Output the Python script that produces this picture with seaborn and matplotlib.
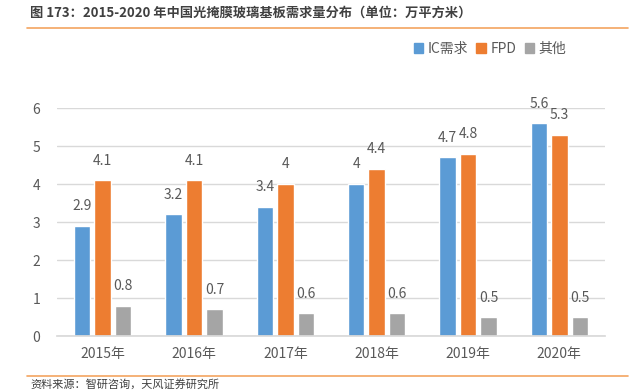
import pandas as pd
import matplotlib
matplotlib.use("Agg")
import matplotlib.pyplot as plt
import seaborn as sns

# data
years = ["2015年", "2016年", "2017年", "2018年", "2019年", "2020年"]
ic_demand = [2.9, 3.2, 3.4, 4.0, 4.7, 5.6]
fpd = [4.1, 4.1, 4.0, 4.4, 4.8, 5.3]
other = [0.8, 0.7, 0.6, 0.6, 0.5, 0.5]
series_names = ["IC需求", "FPD", "其他"]
colors = ["#5B9BD5", "#ED7D31", "#A5A5A5"]

df = pd.DataFrame({
    "年份": years * 3,
    "类别": [series_names[0]] * 6 + [series_names[1]] * 6 + [series_names[2]] * 6,
    "值": ic_demand + fpd + other,
})

sns.set_theme(style="white")
plt.rcParams["font.family"] = ["Noto Sans CJK SC", "DejaVu Sans"]

fig = plt.figure(figsize=(6.33, 3.91), dpi=100)
ax = fig.add_axes([57 / 633, 1 - 336 / 391, 548 / 633, 228 / 391])

sns.barplot(data=df, x="年份", y="值", hue="类别", palette=colors,
            width=0.672, gap=0.2, ax=ax, legend=False, saturation=1)

for cont in ax.containers:
    ax.bar_label(cont, labels=[f"{v:g}" for v in cont.datavalues],
                 padding=9, fontsize=10, color="#595959")

ax.set_ylim(0, 6)
ax.set_xlim(-0.5, 5.5)
ax.set_yticks(range(7))
ax.yaxis.grid(True, color="#D9D9D9", linewidth=1)
ax.set_axisbelow(True)
for s in ["top", "right", "left"]:
    ax.spines[s].set_visible(False)
ax.spines["bottom"].set_color("#D9D9D9")
ax.tick_params(axis="both", length=0, labelsize=10, labelcolor="#595959")
ax.tick_params(axis="x", pad=8)
ax.tick_params(axis="y", pad=12)
ax.set_xlabel("")
ax.set_ylabel("")

# legend at the top right
handles = [plt.Rectangle((0, 0), 1, 1, color=c) for c in colors]
fig.legend(handles, series_names, loc="center", bbox_to_anchor=(490 / 633, 1 - 49 / 391),
           ncol=3, frameon=False, fontsize=10, handlelength=0.7, handleheight=0.7,
           handletextpad=0.3, columnspacing=0.6, labelcolor="#595959")

# title, rules and source note
fig.text(30 / 633, 1 - 13 / 391, "图 173：2015-2020 年中国光掩膜玻璃基板需求量分布（单位：万平方米）",
         fontsize=9.5, fontweight="bold", color="#404040", va="center")
fig.add_artist(plt.Line2D([27 / 633, 628 / 633], [1 - 28 / 391] * 2, color="#F4A460", linewidth=1.2))
fig.add_artist(plt.Line2D([27 / 633, 628 / 633], [1 - 376 / 391] * 2, color="#F4A460", linewidth=1.2))
fig.text(30 / 633, 1 / 391, "资料来源：智研咨询，天风证券研究所", fontsize=8, color="#404040", va="bottom")

fig.savefig("out.png", dpi=100)
